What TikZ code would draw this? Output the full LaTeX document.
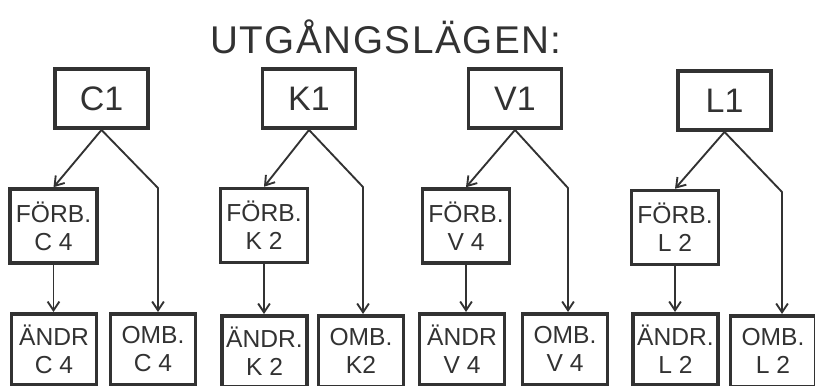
\documentclass[tikz,border=0pt]{standalone}
\usepackage{fontspec}
\setmainfont{Liberation Sans}
\newfontfamily\titlefont[LetterSpace=4]{Liberation Sans}
\usetikzlibrary{arrows.meta}
\definecolor{ink}{RGB}{50,50,50}

\begin{document}
\begin{tikzpicture}[
    x=0.03cm, y=-0.03cm,
    topbox/.style={
        draw=ink, text=ink, line width=3.3pt,
        minimum width=2.79cm, minimum height=1.77cm, inner sep=0pt,
        font=\fontsize{29}{29}\selectfont
    },
    subbox/.style={
        draw=ink, text=ink, line width=3pt,
        minimum width=2.61cm, minimum height=2.22cm, inner sep=0pt,
        align=center, font=\fontsize{21}{24}\selectfont
    },
    endbox/.style={subbox, minimum width=2.55cm, minimum height=2.13cm, anchor=north},
    arrow/.style={-{Straight Barb[length=7.5pt, width=10pt]}, draw=ink, line width=1.6pt, line join=round},
]
\useasboundingbox (0,0) rectangle (815,385);
\clip (0,0) rectangle (815,385);

% Heading
\node[text=ink, font=\titlefont\fontsize{33}{33}\selectfont, anchor=base] (title) at (386,53) {UTGÅNGSLÄGEN:};

% Starting positions
\node[topbox] (c1) at (101.5,98.5) {C1};
\node[topbox] (k1) at (309,98.5) {K1};
\node[topbox] (v1) at (515,98.5) {V1};
\node[topbox] (l1) at (724.5,100.5) {L1};

% Preparation boxes
\node[subbox] (c4f) at (53.5,226) {FÖRB.\\C 4};
\node[subbox] (k2f) at (264,225.5) {FÖRB.\\K 2};
\node[subbox] (v4f) at (466,226) {FÖRB.\\V 4};
\node[subbox] (l2f) at (675,227.5) {FÖRB.\\L 2};

% Bottom row
\node[endbox] (c4a) at (54,312) {ÄNDR\\C 4};
\node[endbox] (c4o) at (153,312) {OMB.\\C 4};
\node[endbox] (k2a) at (264.5,314) {ÄNDR.\\K 2};
\node[endbox] (k2o) at (361,314) {OMB.\\K2};
\node[endbox] (v4a) at (462,312) {ÄNDR\\V 4};
\node[endbox] (v4o) at (565,312) {OMB.\\V 4};
\node[endbox] (l2a) at (675.5,312) {ÄNDR.\\L 2};
\node[endbox] (l2o) at (773,314) {OMB.\\L 2};

% Bends of the long branches
\coordinate (c1b) at (158,188);
\coordinate (k1b) at (363,187);
\coordinate (v1b) at (568,188);
\coordinate (l1b) at (782,192);

% Branches
\draw[arrow] (c1.south) -- (c4f.north);
\draw[arrow] (c1.south) -- (c1b) -- (c1b |- c4o.north);
\draw[arrow] (c4f.south) -- (c4f.south |- c4a.north);

\draw[arrow] (k1.south) -- (k2f.north);
\draw[arrow] (k1.south) -- (k1b) -- (k1b |- k2o.north);
\draw[arrow] (k2f.south) -- (k2f.south |- k2a.north);

\draw[arrow] (v1.south) -- (v4f.north);
\draw[arrow] (v1.south) -- (v1b) -- (v1b |- v4o.north);
\draw[arrow] (v4f.south) -- (v4f.south |- v4a.north);

\draw[arrow] (l1.south) -- (l2f.north);
\draw[arrow] (l1.south) -- (l1b) -- (l1b |- l2o.north);
\draw[arrow] (l2f.south) -- (l2f.south |- l2a.north);

\end{tikzpicture}
\end{document}
